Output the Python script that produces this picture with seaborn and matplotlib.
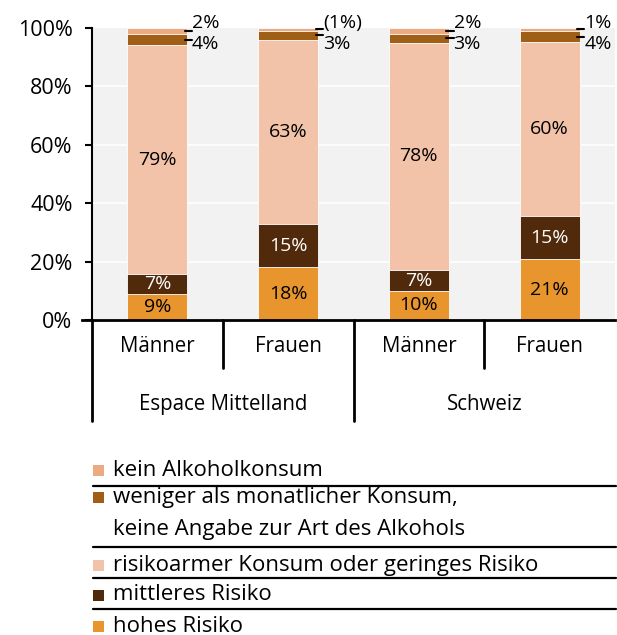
import pandas as pd
import matplotlib.pyplot as plt
import seaborn as sns
from matplotlib.patches import Rectangle

# data (percent, bottom -> top of each stack)
bars = ["EM_M", "EM_F", "CH_M", "CH_F"]
sex_labels = ["Männer", "Frauen", "Männer", "Frauen"]
region_labels = ["Espace Mittelland", "Schweiz"]
hohes = [9, 18, 10, 21]
mittleres = [7, 15, 7, 15]
risikoarm = [79, 63, 78, 60]
weniger = [4, 3, 3, 4]
kein = [2, 1, 2, 1]
weniger_txt = ["4%", "3%", "3%", "4%"]
kein_txt = ["2%", "(1%)", "2%", "1%"]

series = ["hohes Risiko", "mittleres Risiko", "risikoarmer Konsum oder geringes Risiko",
          "weniger als monatlicher Konsum,\nkeine Angabe zur Art des Alkohols", "kein Alkoholkonsum"]
values = [hohes, mittleres, risikoarm, weniger, kein]
colors = ["#E8952E", "#512A0C", "#F2C3A9", "#A05F17", "#EBAA81"]

font = ["Open Sans", "DejaVu Sans"]
sns.set_style("white")
plt.rcParams["font.family"] = font
plt.rcParams["text.color"] = "black"
plt.rcParams["ytick.color"] = "black"
fs_axis = 14.8
fs_bar = 14
fs_leg = 16

fig = plt.figure(figsize=(6.17, 6.35), dpi=100)
W, H = 617, 635
ax = fig.add_axes([92 / W, (H - 320) / H, 523 / W, 292 / H])
ax.set_facecolor("#F2F2F2")

# stacked bars by overdrawing cumulative totals (rounded values scaled to 100)
rows = []
for i, b in enumerate(bars):
    total = sum(v[i] for v in values)
    cum = 0
    for s, v in zip(series, values):
        cum += v[i] * 100 / total
        rows.append({"bar": b, "series": s, "cum": cum})
df = pd.DataFrame(rows)

for s, c in reversed(list(zip(series, colors))):
    sub = df[df["series"] == s]
    sns.barplot(data=sub, x="bar", y="cum", order=bars, color=c, saturation=1,
                width=0.46, edgecolor="white", linewidth=0.6, ax=ax, zorder=3)

ax.set_ylim(0, 100)
ax.set_xlim(-0.5, 3.5)
ax.set_yticks(range(0, 101, 20))
ax.set_yticklabels([f"{t}%" for t in range(0, 101, 20)], fontsize=fs_axis + 0.7)
for t in range(20, 100, 20):
    ax.axhline(t, color="white", lw=1.2, zorder=1)
ax.tick_params(axis="y", length=5, width=1.5, pad=9, left=True, color="black")
ax.tick_params(axis="x", length=0, labelbottom=False)
ax.set_xlabel("")
ax.set_ylabel("")
for sp in ["top", "right"]:
    ax.spines[sp].set_visible(False)
ax.spines["left"].set_linewidth(1.5)
ax.spines["left"].set_color("black")
ax.spines["bottom"].set_linewidth(2)
ax.spines["bottom"].set_color("black")
ax.spines["bottom"].set_bounds(-0.58, 3.5)
ax.spines["bottom"].set_zorder(5)

# labels inside bars
hw = 0.23
for i in range(len(bars)):
    total = sum(v[i] for v in values)
    y0 = 0
    for v, tc in zip([hohes[i], mittleres[i], risikoarm[i]], ["black", "white", "black"]):
        h = v * 100 / total
        ax.text(i, y0 + h / 2, f"{v}%", ha="center", va="center", fontsize=fs_bar,
                color=tc, zorder=4)
        y0 += h
    # small top segments, labelled on the right
    hw_ = weniger[i] * 100 / total
    hk = kein[i] * 100 / total
    for ym in [y0 + hw_ / 2, y0 + hw_ + hk / 2]:
        ax.plot([i + hw - 0.02, i + hw + 0.035], [ym] * 2, color="black",
                lw=1.5, clip_on=False, zorder=5)
    ax.text(i + hw + 0.035, 94.6, weniger_txt[i], ha="left", va="center", fontsize=fs_bar)
    ax.text(i + hw + 0.035, 101.8, kein_txt[i], ha="left", va="center", fontsize=fs_bar,
            clip_on=False)

# category axis: sex labels, region labels and separators
trans = ax.get_xaxis_transform()
for i, lab in enumerate(sex_labels):
    ax.text(i, -0.09, lab, transform=trans, ha="center", va="center", fontsize=fs_axis)
for j, lab in enumerate(region_labels):
    ax.text(2 * j + 0.5, -0.29, lab, transform=trans, ha="center", va="center",
            fontsize=fs_axis)
for xs, depth in [(-0.5, -0.345), (0.5, -0.165), (1.5, -0.345), (2.5, -0.165)]:
    ax.plot([xs, xs], [0, depth], transform=trans, color="black", lw=2, clip_on=False)

# legend with rule lines
lax = fig.add_axes([0, 0, 1, 1])
lax.set_xlim(0, W)
lax.set_ylim(H, 0)
lax.axis("off")
leg_order = [4, 3, 2, 1, 0]
leg_y = [470, 497, 565, 595, 626]
rule_y = [486, 547, 578, 609]
for k, yy in zip(leg_order, leg_y):
    lax.add_patch(Rectangle((93, yy - 5), 11, 11, color=colors[k], lw=0))
    if "\n" in series[k]:
        for n, line in enumerate(series[k].split("\n")):
            lax.text(113, yy + 33 * n, line, ha="left", va="center", fontsize=fs_leg)
    else:
        lax.text(113, yy, series[k], ha="left", va="center", fontsize=fs_leg)
for yy in rule_y:
    lax.plot([93, 616], [yy, yy], color="black", lw=1.6)

fig.savefig("out.png", dpi=100)
